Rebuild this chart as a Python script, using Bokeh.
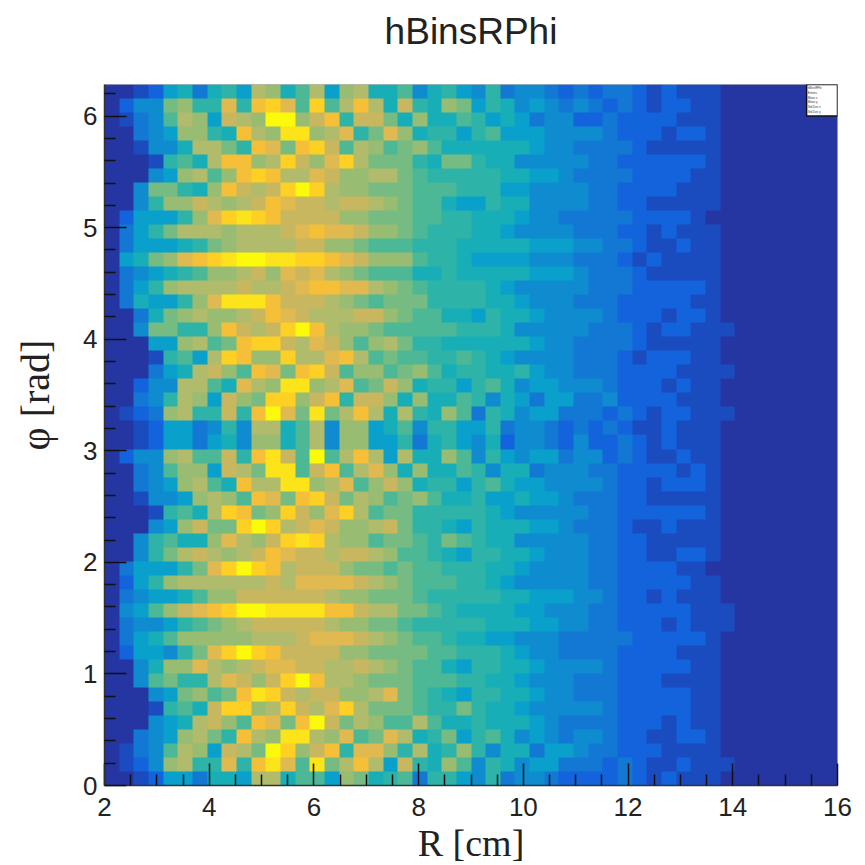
import math
import numpy as np
from bokeh.plotting import figure
from bokeh.models import LinearColorMapper, FixedTicker, Label, BoxAnnotation, Range1d, Title
from bokeh.embed import file_html
from bokeh.resources import INLINE

TITLE = "hBinsRPhi"
X_TITLE = "R [cm]"
Y_TITLE = "\u03c6 [rad]"
X_MAJOR = [2, 4, 6, 8, 10, 12, 14, 16]
Y_MAJOR = [0, 1, 2, 3, 4, 5, 6]
X_MINOR = [2.5, 3, 3.5, 4.5, 5, 5.5, 6.5, 7, 7.5, 8.5, 9, 9.5, 10.5, 11, 11.5, 12.5, 13, 13.5, 14.5, 15, 15.5]
Y_MINOR = [i / 5 for i in range(32) if i % 5]
STATS_LINES = ["hBinsRPhi", "Entries", "Mean x", "Mean y", "Std Dev x", "Std Dev y"]

# Colour levels read per cell (base 36 digit, 0 = empty ... h = brightest).
# Rows run from the top of the plot (phi = 2 pi) to the bottom (phi = 0).
# CELLS_INNER: first 20 R bins, CELLS_OUTER: next 23 R bins. Remaining bins are empty.
CELLS_INNER = [
"00125"+"63675"+"ba68b"+"5ab66",
"02449"+"a77d7"+"efd8f"+"8beb6",
"01348"+"ba5cb"+"ahhac"+"e7cc9",
"00345"+"aa76e"+"bagga"+"bd79d",
"00144"+"6bb97"+"ed9ef"+"c8ba8",
"00017"+"86bee"+"abfca"+"dfb99",
"00045"+"ab8ae"+"febbd"+"caabb",
"00499"+"76aec"+"bcfhf"+"baa99",
"0047a"+"acbab"+"cedcc"+"bccba",
"02555"+"7adfg"+"feccc"+"caa99",
"03579"+"bbbab"+"bbcde"+"ddcaa",
"03555"+"679ab"+"bbbcc"+"aa988",
"0569a"+"defgh"+"hggff"+"edcaa",
"03456"+"78aab"+"cadcd"+"ba988",
"0357a"+"bbbbc"+"bbcde"+"eddba",
"03655"+"7adgg"+"geccc"+"ba989",
"00369"+"abaab"+"cedcb"+"bbcca",
"00499"+"77aec"+"bcfhe"+"baa98",
"00055"+"ab89e"+"ffcbd"+"ca8ab",
"00017"+"85bfe"+"aafbb"+"deb89",
"00035"+"6bca8"+"ed9ef"+"c8aa8",
"00244"+"bb86d"+"bagga"+"bd89c",
"00347"+"ba5ca"+"9ffac"+"e7cca",
"0123a"+"b77c7"+"ehd9g"+"9beb6",
"00125"+"53474"+"bb68b"+"4aa56",
"00125"+"53564"+"aa68b"+"4aa55",
"0244a"+"b88c7"+"egc8h"+"8beb5",
"00348"+"aa5cb"+"9gg8c"+"e8bda",
"00345"+"ab86e"+"bbgga"+"bd8ac",
"00144"+"5aba8"+"ed9ef"+"c9ba8",
"00017"+"86bfe"+"9afca"+"dfb89",
"00045"+"ac99f"+"hfbcd"+"caabc",
"00478"+"66adb"+"acfgf"+"baa89",
"00479"+"bcbab"+"cedcc"+"bccba",
"03555"+"79dfh"+"febcc"+"ca998",
"0257a"+"bbbbb"+"bcbdd"+"ddcba",
"03455"+"68aac"+"ccccc"+"baa99",
"0458a"+"cdefh"+"hgggg"+"eecbb",
"03445"+"789ab"+"ccccc"+"baa99",
"03568"+"aaaaa"+"bbbcd"+"ddcba",
"02554"+"79dfh"+"feccc"+"caa99",
"0046a"+"adbab"+"cddcc"+"bbcba",
"00489"+"77bdc"+"acfhe"+"bba99",
"00045"+"9a89e"+"gfcbc"+"caabd",
"00017"+"86cff"+"abfcb"+"dfb99",
"00045"+"6bca8"+"ed9eh"+"c9ba8",
"00345"+"ab97e"+"baggb"+"ad89d",
"01348"+"ba5cb"+"9hfac"+"e7dda",
"0124a"+"b77d7"+"egd8g"+"9beb5",
"00125"+"53665"+"bb688"+"5a967",
]
CELLS_OUTER = [
"84675"+"47344"+"32323"+"32121"+"110",
"c76a9"+"57645"+"43432"+"32122"+"110",
"6a668"+"75653"+"44223"+"22221"+"110",
"a6775"+"78555"+"44443"+"22212"+"210",
"9a866"+"66665"+"44333"+"32111"+"110",
"97699"+"76644"+"44433"+"22222"+"210",
"98777"+"77665"+"54333"+"32222"+"110",
"98887"+"77554"+"44433"+"22221"+"110",
"98865"+"57664"+"44433"+"22111"+"110",
"98877"+"66654"+"43333"+"32222"+"100",
"98777"+"66544"+"44333"+"22121"+"110",
"87776"+"66665"+"55443"+"32112"+"110",
"a8776"+"55554"+"44333"+"21211"+"110",
"86676"+"66665"+"55433"+"32111"+"110",
"98777"+"76544"+"44433"+"32222"+"210",
"99777"+"76654"+"44333"+"22222"+"110",
"98866"+"57665"+"44443"+"22212"+"210",
"88887"+"77644"+"44433"+"32122"+"111",
"97766"+"66665"+"44333"+"32111"+"110",
"88778"+"76544"+"44333"+"21222"+"110",
"9a867"+"76675"+"44333"+"22221"+"111",
"a6775"+"78645"+"54443"+"22212"+"110",
"6a668"+"74653"+"55334"+"22221"+"110",
"b76a8"+"37645"+"53332"+"32122"+"111",
"84775"+"57344"+"32323"+"21121"+"110",
"73675"+"46244"+"32422"+"32121"+"110",
"b66a8"+"47545"+"53442"+"32112"+"110",
"6a668"+"74663"+"44433"+"22221"+"210",
"a6775"+"78655"+"44443"+"22122"+"210",
"9a866"+"75565"+"54333"+"22111"+"110",
"97777"+"76544"+"44433"+"22222"+"210",
"97765"+"76665"+"54333"+"21121"+"110",
"98798"+"76644"+"44433"+"22111"+"110",
"88765"+"77665"+"44433"+"22112"+"210",
"98877"+"76654"+"44433"+"22221"+"100",
"98887"+"76544"+"44433"+"22222"+"110",
"98777"+"77665"+"55443"+"22121"+"110",
"99876"+"66655"+"44433"+"22222"+"111",
"87777"+"76665"+"54433"+"22212"+"111",
"98876"+"65544"+"43333"+"32222"+"210",
"99887"+"77654"+"43333"+"22221"+"110",
"98865"+"77665"+"44443"+"22222"+"110",
"98887"+"76654"+"44333"+"22211"+"110",
"98765"+"77665"+"44333"+"22222"+"110",
"98779"+"76654"+"44443"+"22222"+"110",
"8b866"+"76665"+"43333"+"22212"+"110",
"b6795"+"78645"+"43443"+"22112"+"210",
"7b67a"+"74663"+"55433"+"22211"+"110",
"c76a8"+"47645"+"53332"+"32112"+"111",
"83775"+"47344"+"32222"+"32121"+"110",
]
EMPTY_BINS = 7
LEVEL_COLOURS = ["#2536a3", "#1a4cc0", "#1263dc", "#1278d4", "#0f8cd0", "#0aa0cc",
                 "#18aeb8", "#2db3a8", "#4db896", "#75bb82", "#98bc72", "#b0bb6c",
                 "#c9b75f", "#e0ba50", "#f5c038", "#fdd023", "#fde31a", "#fafa0a"]

rows = []
for inner, outer in zip(CELLS_INNER, CELLS_OUTER):
    assert len(inner) == 20 and len(outer) == 23, (inner, outer)
    rows.append([int(c, 36) for c in inner + outer] + [0] * EMPTY_BINS)
grid = np.array(rows[::-1], dtype=float)

W, H = 865, 865
LEFT, TOP, FW, FH = 104, 84, 733, 701

p = figure(width=W, height=H, output_backend="svg", toolbar_location=None,
           x_range=Range1d(2, 16), y_range=Range1d(0, 2 * math.pi),
           min_border_left=LEFT, min_border_right=W - LEFT - FW,
           min_border_top=TOP, min_border_bottom=H - TOP - FH,
           tools="", title=TITLE)
p.frame_width = FW
p.frame_height = FH
p.grid.visible = False
p.background_fill_color = "#ffffff"
p.outline_line_color = "#b5b5b5"

mapper = LinearColorMapper(palette=LEVEL_COLOURS, low=-0.5, high=17.5)
p.image(image=[grid], x=2, y=0, dw=14, dh=2 * math.pi, color_mapper=mapper)

p.title.align = "center"
p.title.text_font = "Liberation Sans"
p.title.text_font_size = "37px"
p.title.text_font_style = "normal"
p.title.text_color = "#222222"
p.title.standoff = 0
# blank panel between the frame and the title, which lifts the title to its place
p.add_layout(Title(text="\u00a0", text_font_size="28px", standoff=0), "above")

p.xaxis.ticker = FixedTicker(ticks=X_MAJOR, minor_ticks=X_MINOR)
p.yaxis.ticker = FixedTicker(ticks=Y_MAJOR, minor_ticks=Y_MINOR)
for ax in (p.xaxis[0], p.yaxis[0]):
    ax.major_tick_in = 22
    ax.major_tick_out = 0
    ax.minor_tick_in = 11
    ax.minor_tick_out = 0
    ax.major_tick_line_color = "#111111"
    ax.minor_tick_line_color = "#111111"
    ax.major_tick_line_width = 1.5
    ax.minor_tick_line_width = 1.5
    ax.axis_line_color = "#333333"
    ax.axis_line_width = 1.5
    ax.major_label_text_font = "Liberation Sans"
    ax.major_label_text_font_size = "26px"
    ax.major_label_text_color = "#222222"
p.xaxis[0].major_label_standoff = 12
p.yaxis[0].major_label_standoff = 7
p.xaxis[0].axis_label = X_TITLE
p.xaxis[0].axis_label_text_font = "Liberation Serif"
p.xaxis[0].axis_label_text_font_style = "normal"
p.xaxis[0].axis_label_text_font_size = "38px"
p.xaxis[0].axis_label_text_color = "#222222"
p.xaxis[0].axis_label_standoff = 3

# leading no-break spaces lift the phi title above the axis centre, as in the reference
p.yaxis[0].axis_label = "\u00a0" * 8 + Y_TITLE
p.yaxis[0].axis_label_text_font = "Liberation Serif"
p.yaxis[0].axis_label_text_font_style = "normal"
p.yaxis[0].axis_label_text_font_size = "40px"
p.yaxis[0].axis_label_text_color = "#222222"
p.yaxis[0].axis_label_standoff = 22

# stats box
p.add_layout(BoxAnnotation(left=15.41, right=16, top=2 * math.pi, bottom=6.0,
                           fill_color="#ffffff", fill_alpha=1, line_color="#111111",
                           line_alpha=1, line_width=1.5))
for i, line in enumerate(STATS_LINES):
    p.add_layout(Label(x=15.43, y=6.255 - i * 0.043, text=line, text_font="Liberation Sans",
                       text_font_size="3px", text_color="#333333", text_baseline="middle"))

open("out.html", "w").write(file_html(p, INLINE))
